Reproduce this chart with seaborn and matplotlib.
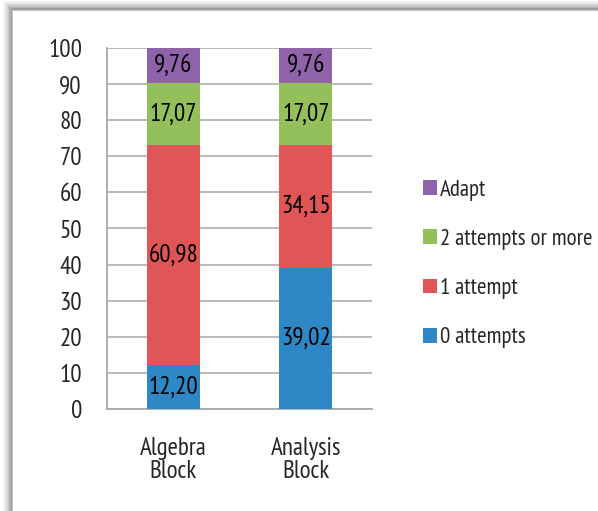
import numpy as np
import pandas as pd
import matplotlib.pyplot as plt
from matplotlib.patches import Rectangle
import seaborn as sns

blocks = ['Algebra\nBlock', 'Analysis\nBlock']
series = ['0 attempts', '1 attempt', '2 attempts or more', 'Adapt']
zero_attempts = [12.20, 39.02]
one_attempt = [60.98, 34.15]
two_or_more = [17.07, 17.07]
adapt = [9.76, 9.76]
colors = ['#2e88c6', '#e05656', '#93c05a', '#8f63a9']

sns.set_style('white')
plt.rcParams['font.family'] = ['PT Sans Narrow', 'Fira Sans Condensed', 'DejaVu Sans']

df = pd.DataFrame({'block': blocks, '0 attempts': zero_attempts,
                   '1 attempt': one_attempt, '2 attempts or more': two_or_more,
                   'Adapt': adapt})
cum = df[series].cumsum(axis=1)

fig = plt.figure(figsize=(5.98, 5.11), dpi=100)
fig.patch.set_facecolor('white')

# frame with soft shadow
for i, a in enumerate([0.04, 0.05, 0.06, 0.08, 0.10, 0.12]):
    off = (6 - i) * 1.5
    fig.patches.append(Rectangle(((12 - off) / 598, 0), 1.2, (501 + off) / 511,
                                 transform=fig.transFigure, facecolor='black',
                                 edgecolor='none', alpha=a, zorder=-20))
fig.patches.append(Rectangle((12 / 598, -0.1), 1.2, 1.1 - 10 / 511,
                             transform=fig.transFigure, facecolor='white',
                             edgecolor='#c8c8c8', linewidth=0.8, zorder=-10))

ax = fig.add_axes([107 / 598, 1 - 409 / 511, 265 / 598, 361 / 511])
ax.set_facecolor('none')

# stacked bars: draw cumulative totals from the top down
for s, c in reversed(list(zip(series, colors))):
    sns.barplot(x=df['block'], y=cum[s], color=c, width=0.4, ax=ax,
                saturation=1, edgecolor='none', zorder=3)

# segment labels
for j, s in enumerate(series):
    vals = df[s].values
    tops = cum[s].values
    for i in range(len(blocks)):
        txt = f'{vals[i]:.2f}'.replace('.', ',')
        ax.text(i, tops[i] - vals[i] / 2, txt, ha='center', va='center',
                fontsize=18, color='black', zorder=5)

ax.set_xlim(-0.5, 1.5)
ax.set_ylim(0, 100)
ax.set_yticks(np.arange(0, 101, 10))
ax.set_xlabel('')
ax.set_ylabel('')
ax.grid(axis='y', color='#b4b4b4', linewidth=1.3, zorder=0)
ax.set_axisbelow(True)
for side in ['top', 'right']:
    ax.spines[side].set_visible(False)
for side in ['left', 'bottom']:
    ax.spines[side].set_color('#a8a8a8')
    ax.spines[side].set_linewidth(1.3)
ax.tick_params(axis='y', length=10, width=1.3, color='#b4b4b4', labelsize=18, pad=8)
ax.tick_params(axis='x', which='major', length=0, labelsize=18, pad=20)
ax.set_xticks([-0.5, 0.5, 1.5], minor=True)
ax.tick_params(axis='x', which='minor', length=9, width=1.3, color='#a8a8a8', direction='out')
for lab in ax.get_xticklabels():
    lab.set_linespacing(1.0)

handles = [Rectangle((0, 0), 1, 1, facecolor=c, edgecolor='none') for c in colors]
leg = fig.legend(handles[::-1], series[::-1], loc='center left',
                 bbox_to_anchor=(402 / 598, 1 - 264 / 511), frameon=False,
                 fontsize=16.5, handlelength=0.62, handleheight=0.62,
                 handletextpad=0.12, labelspacing=1.23)

fig.savefig('out.png', dpi=100)
